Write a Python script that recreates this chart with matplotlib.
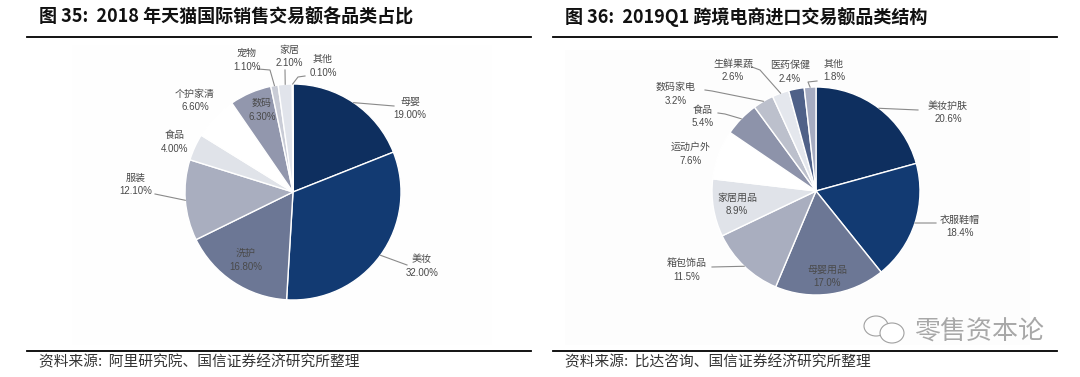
#!/usr/bin/env python3

import numpy as np
import matplotlib
matplotlib.use("Agg")
import matplotlib.pyplot as plt
from matplotlib.patches import Ellipse, Rectangle

plt.rcParams['font.family'] = ['Noto Sans CJK SC', 'DejaVu Sans']

# ----------------------------
# Data
# ----------------------------
LEFT_NAMES = ["母婴", "美妆", "洗护", "服装", "食品", "个护家清", "数码", "宠物", "家居", "其他"]
LEFT_VALUES = [19.0, 32.0, 16.8, 12.1, 4.0, 6.6, 6.3, 1.1, 2.1, 0.1]
LEFT_COLORS = ["#0e2f5f", "#123a72", "#6c7795", "#a9aebf", "#e0e3e9",
               "#ffffff", "#9297ad", "#c9ccd6", "#e1e4eb", "#ffffff"]

RIGHT_NAMES = ["美妆护肤", "衣服鞋帽", "母婴用品", "箱包饰品", "家居用品", "运动户外",
               "食品", "数码家电", "生鲜果蔬", "医药保健", "其他"]
RIGHT_VALUES = [20.6, 18.4, 17.0, 11.5, 8.9, 7.6, 5.4, 3.2, 2.6, 2.4, 1.8]
RIGHT_COLORS = ["#0e2f5f", "#123a72", "#6c7795", "#a9aebf", "#e0e3e9", "#ffffff",
                "#8d93aa", "#bcc0cc", "#e4e7ed", "#4f6188", "#a6acc1"]

# ----------------------------
# Layout (pixels, y measured from the top)
# ----------------------------
W, H = 1080, 377

LEFT_LABELS = [(410, 102), (422, 259), (246, 253), (136, 178), (175, 135),
               (195, 94), (262, 103), (247, 53), (289, 50), (323, 59)]
RIGHT_LABELS = [(948, 106), (960, 220), (827, 270), (687, 263), (737, 198), (691, 147),
                (703, 110), (676, 87), (733, 64), (790, 65), (834, 64)]

# leader line waypoints after the wedge edge, by wedge index
LEFT_LEADERS = {0: [(394, 106)], 1: [(407, 265)], 3: [(155, 194)],
                7: [(270, 70), (258, 69)], 8: [(285, 70)], 9: [(298, 77), (305, 76)]}
RIGHT_LEADERS = {0: [(918, 110)], 1: [(936, 223)], 3: [(712, 267)],
                 6: [(725, 114), (718, 113)], 7: [(712, 91), (705, 90)],
                 8: [(760, 70), (752, 67)], 10: [(808, 82), (817, 81)]}

TEXT_GREY = "#4a4a4a"


def py(y):
    return H - y


def draw_pie(ax, values, colors, names, labels, leaders, center, radius, fmt):
    wedges, _ = ax.pie(values, colors=colors, startangle=90, counterclock=False,
                       center=(center[0], py(center[1])), radius=radius, frame=True,
                       wedgeprops={"edgecolor": "white", "linewidth": 1.0})
    for i, wedge in enumerate(wedges):
        x, y = labels[i]
        ax.text(x, py(y), names[i], ha="center", va="center", fontsize=7.2, color=TEXT_GREY)
        ax.text(x, py(y + 13.5), fmt.format(values[i]), ha="center", va="center",
                fontsize=7, color=TEXT_GREY, family="Liberation Sans")
        if i in leaders:
            mid = np.deg2rad((wedge.theta1 + wedge.theta2) / 2)
            xs = [center[0] + radius * np.cos(mid)] + [p[0] for p in leaders[i]]
            ys = [py(center[1]) + radius * np.sin(mid)] + [py(p[1]) for p in leaders[i]]
            ax.plot(xs, ys, color="#8a8a8a", lw=0.8)


def draw_frame(ax, x0, x1, title, source):
    ax.plot([x0, x1], [py(37), py(37)], color="black", lw=1.3)
    ax.plot([x0, x1], [py(351), py(351)], color="black", lw=1.3)
    ax.text(x0 + 12, py(17), title, ha="left", va="center", fontsize=13,
            fontweight="bold", color="#111111")
    ax.text(x0 + 12, py(362), source, ha="left", va="center", fontsize=10.6, color="#333333")


def main():
    fig = plt.figure(figsize=(W / 100, H / 100), dpi=100)
    ax = fig.add_axes([0, 0, 1, 1])

    ax.add_patch(Rectangle((72, py(345)), 420, 300, color="#fefefe", lw=0))
    ax.add_patch(Rectangle((565, py(345)), 465, 295, color="#fdfdfd", lw=0))

    draw_pie(ax, LEFT_VALUES, LEFT_COLORS, LEFT_NAMES, LEFT_LABELS, LEFT_LEADERS,
             (293, 192), 108, "{:.2f}%")
    draw_pie(ax, RIGHT_VALUES, RIGHT_COLORS, RIGHT_NAMES, RIGHT_LABELS, RIGHT_LEADERS,
             (816, 191), 104, "{:.1f}%")

    draw_frame(ax, 27, 531, "图 35:  2018 年天猫国际销售交易额各品类占比",
               "资料来源:  阿里研究院、国信证券经济研究所整理")
    draw_frame(ax, 553, 1057, "图 36:  2019Q1 跨境电商进口交易额品类结构",
               "资料来源:  比达咨询、国信证券经济研究所整理")

    # watermark
    ax.text(914, py(331), "零售资本论", ha="left", va="center", fontsize=18.7, color="#a8a8a8")
    ax.add_patch(Ellipse((876, py(326)), 24, 20, fill=False, ec="#a0a0a0", lw=0.8))
    ax.add_patch(Ellipse((892, py(333)), 24, 20, fc="white", ec="#a0a0a0", lw=0.8))

    ax.set_xlim(0, W)
    ax.set_ylim(0, H)
    ax.set_aspect("auto")
    ax.set_axis_off()

    fig.savefig("out.png", dpi=100)


if __name__ == "__main__":
    main()
